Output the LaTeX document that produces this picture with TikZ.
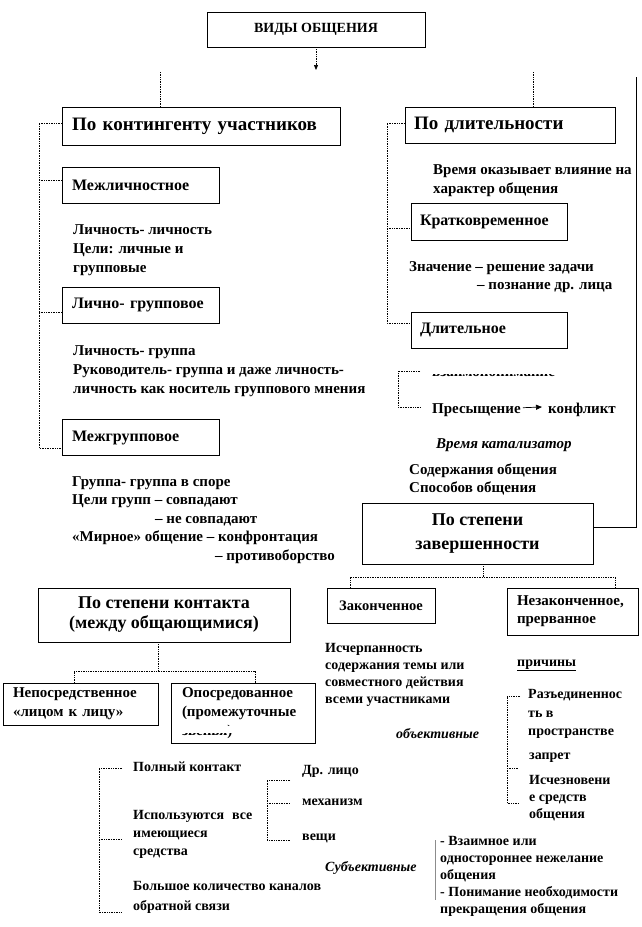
\documentclass[tikz,border=0pt]{standalone}
\usepackage{fontspec}
\setmainfont{Liberation Serif}
\usetikzlibrary{arrows.meta}
\begin{document}
\begin{tikzpicture}[x=1pt,y=-1pt,
  box/.style={draw=black, line width=0.7pt, inner sep=0pt},
  conn/.style={draw=black, line width=0.7pt, densely dotted},
  txt/.style={inner sep=0pt, anchor=north west, align=left},
  fh/.style={font=\bfseries\fontsize{19}{22}\selectfont},
  fs/.style={font=\bfseries\fontsize{16}{19}\selectfont},
  fb/.style={font=\bfseries\fontsize{15}{19}\selectfont},
  fc/.style={font=\bfseries\fontsize{14}{17}\selectfont},
  fi/.style={font=\bfseries\itshape\fontsize{15}{18}\selectfont},
  fis/.style={font=\bfseries\itshape\fontsize{14}{17}\selectfont},
]
\useasboundingbox (0,0) rectangle (642,927);

% ---------- boxes ----------
\node[box, minimum width=218pt, minimum height=35pt, font=\bfseries\fontsize{14}{16}\selectfont] (title) at (316,29.5) {ВИДЫ ОБЩЕНИЯ};

\node[box, fh, minimum width=278pt, minimum height=38pt, text width=258pt, align=left] (cont) at (201,126) {По контингенту участников};
\node[box, fh, minimum width=210pt, minimum height=36pt, text width=192pt, align=left] (dlit) at (510,125) {По длительности};

\node[box, fs, minimum width=157pt, minimum height=36pt, text width=137pt, align=left] (mezhl) at (140.5,185) {Межличностное};
\node[box, fs, minimum width=157pt, minimum height=36pt, text width=137pt, align=left] (lichgr) at (140.5,305) {Лично- групповое};
\node[box, fs, minimum width=157pt, minimum height=36pt, text width=137pt, align=left] (mezhgr) at (140.5,437.5) {Межгрупповое};

\node[box, fs, minimum width=156pt, minimum height=37pt, text width=138pt, align=left] (krat) at (489,221.5) {Кратковременное};
\node[box, fs, minimum width=156pt, minimum height=36pt, text width=138pt, align=left] (dlitel) at (489,330) {Длительное};

\node[box, font=\bfseries\fontsize{18}{24}\selectfont, minimum width=231pt, minimum height=61pt, align=center] (zav) at (477.5,533.5) {По степени\\завершенности};
\node[box, font=\bfseries\fontsize{14.5}{17}\selectfont, minimum width=108pt, minimum height=35pt] (zak) at (381,605.5) {Законченное};
\node[box, font=\bfseries\fontsize{15}{18}\selectfont, minimum width=131pt, minimum height=47pt, text width=111pt, align=left] (nezak) at (572.5,611.5) {Незаконченное,\\прерванное};

\node[box, font=\bfseries\fontsize{18}{20}\selectfont, minimum width=252pt, minimum height=54pt, align=center] (kont) at (164,615) {По степени контакта\\(между общающимися)};
\node[box, fb, minimum width=155pt, minimum height=42pt, text width=135pt, align=left] (neposr) at (80.5,704) {Непосредственное\\«лицом к лицу»};
\node[box, fb, minimum width=144pt, minimum height=60pt, text width=122pt, align=left] (oposr) at (243,713) {Опосредованное\\(промежуточные\\звенья)};
\fill[white] (176,725.5) rectangle (310,733);

% ---------- texts ----------
\node[txt, fb] (t1) at (73,224) {Личность- личность\\Цели: личные и\\групповые};
\node[txt, fb] (t2) at (73,345) {Личность- группа\\Руководитель- группа и даже личность-\\личность как носитель группового мнения};
\node[txt, font=\bfseries\fontsize{15}{18.5}\selectfont] (t3) at (72,476) {Группа- группа в споре\\Цели групп – совпадают\\\hspace*{83pt}– не совпадают\\«Мирное» общение – конфронтация\\\hspace*{143pt}– противоборство};

\node[txt, fb] (t4) at (433,164) {Время оказывает влияние на\\характер общения};
\node[txt, font=\bfseries\fontsize{15}{18}\selectfont] (t5) at (409,261) {Значение – решение задачи\\\hspace*{68pt}– познание др. лица};
\begin{scope}
  \clip (425,374) rectangle (640,392);
  \node[txt, fb] (t6) at (432,369) {взаимопонимание};
\end{scope}
\node[txt, fb] (t7) at (432,403) {Пресыщение};
\node[txt, fb] (t8) at (548,403) {конфликт};
\node[txt, fi] (t9) at (436,438) {Время катализатор};
\node[txt, font=\bfseries\fontsize{15}{18}\selectfont] (t10) at (409,464) {Содержания общения\\Способов общения};

\node[txt, font=\bfseries\fontsize{14}{17}\selectfont] (t11) at (325,643.5) {Исчерпанность\\содержания темы или\\совместного действия\\всеми участниками};
\node[txt, fc] (t12) at (517,659.5) {\underline{причины}};
\node[txt, fis] (t13) at (396,728) {объективные};
\node[txt, font=\bfseries\fontsize{14}{18.5}\selectfont] (t14) at (528,689.5) {Разъединеннос\\ть в\\пространстве};
\node[txt, fc] (t15) at (529,752.5) {запрет};
\node[txt, font=\bfseries\fontsize{14}{17}\selectfont] (t16) at (529,775) {Исчезновени\\е средств\\общения};

\node[txt, fc] (t17) at (133,761.5) {Полный контакт};
\node[txt, font=\bfseries\fontsize{14}{18}\selectfont] (t18) at (133,810.5) {Используются\hspace{8pt}все\\имеющиеся\\средства};
\node[txt, font=\bfseries\fontsize{14}{20}\selectfont] (t19) at (133,881.5) {Большое количество каналов\\обратной связи};
\node[txt, fc] (t20) at (302,765.5) {Др. лицо};
\node[txt, fc] (t21) at (302,798.5) {механизм};
\node[txt, fc] (t22) at (302,833.5) {вещи};
\node[txt, fis] (t23) at (325,861.5) {Субъективные};
\node[txt, font=\bfseries\fontsize{14}{16.8}\selectfont] (t24) at (440,836.5) {- Взаимное или\\одностороннее нежелание\\общения\\- Понимание необходимости\\прекращения общения};

% ---------- connectors ----------
\coordinate (arrEnd) at (316,70);
\draw[conn, -{Triangle[length=5pt,width=4pt]}] (title.south) -- (arrEnd);
\coordinate (upL) at (160,72);
\draw[conn] (upL) -- (upL |- cont.north);
\coordinate (upR) at (533,72);
\draw[conn] (upR) -- (upR |- dlit.north);

\draw[conn] (cont.west |- 0,123) -- (39,123) |- (mezhgr.west |- 0,448);
\draw[conn] (39,180) -- (mezhl.west |- 0,180);
\draw[conn] (39,312) -- (lichgr.west |- 0,312);

\draw[conn] (dlit.west |- 0,123) -- (387,123) |- (dlitel.west |- 0,323);
\draw[conn] (387,228) -- (krat.west |- 0,228);

\coordinate (rTop) at (636,77);
\draw[line width=0.9pt] (rTop) -- (636,527) -- (zav.east |- 0,527);

\draw[conn] (zav.south -| 483,0) -- (483,577);
\draw[conn] (zak.north -| 350,0) -- (350,577) -- (615,577) -- (nezak.north -| 615,0);

\draw[conn] (kont.south -| 158,0) -- (158,671);
\draw[conn] (neposr.north -| 74,0) -- (74,671) -- (255,671) -- (oposr.north -| 255,0);

\coordinate (b1a) at (420,371);
\coordinate (b1b) at (420,407);
\draw[conn] (b1a) -- (398,371) |- (b1b);
\draw[line width=0.7pt, -{Triangle[length=6pt,width=5pt]}] ([xshift=2pt,yshift=2pt]t7.east) -- ([xshift=-6pt,yshift=3pt]t8.west);

\coordinate (p1) at (122,768);
\coordinate (p2) at (122,839);
\coordinate (p3) at (122,912);
\draw[conn] (p1) -- (99,768) |- (p3);
\draw[conn] (99,839) -- (p2);

\coordinate (q1) at (290,780);
\coordinate (q2) at (290,803);
\coordinate (q3) at (290,840);
\draw[conn] (q1) -- (267,780) |- (q3);
\draw[conn] (267,803) -- (q2);

\coordinate (r1) at (520,696);
\coordinate (r2) at (518,768);
\coordinate (r3) at (518,803);
\draw[conn] (r1) -- (507,696) |- (r3);
\draw[conn] (507,768) -- (r2);

\coordinate (g1) at (435,840);
\coordinate (g2) at (435,900);
\draw[black!45, line width=1pt] (g1) -- (g2);
\end{tikzpicture}
\end{document}
